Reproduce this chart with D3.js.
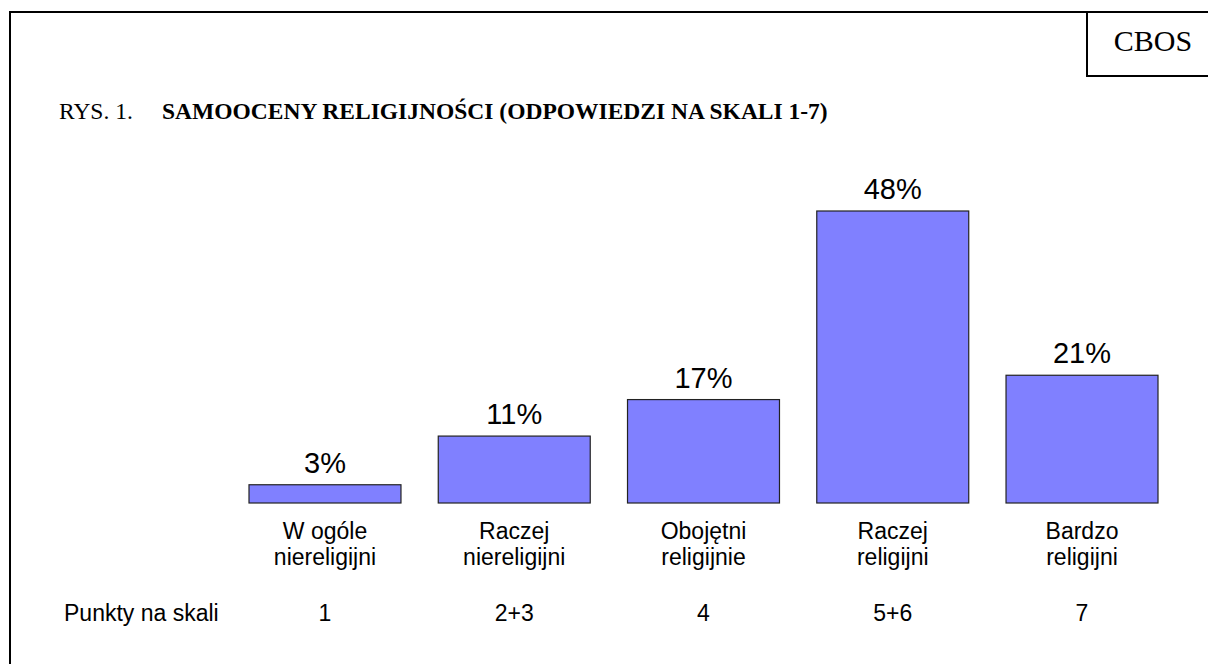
<!DOCTYPE html>
<html lang="pl">
<head>
<meta charset="utf-8">
<title>Samooceny religijności</title>
<script src="https://d3js.org/d3.v7.min.js"></script>
<style>
  body { margin: 0; background: #fff; }
  text { fill: #000; }
</style>
</head>
<body>
<script>
// dane
var categories = ["W ogóle niereligijni", "Raczej niereligijni", "Obojętni religijnie", "Raczej religijni", "Bardzo religijni"];
var labelLines = [["W ogóle", "niereligijni"], ["Raczej", "niereligijni"], ["Obojętni", "religijnie"], ["Raczej", "religijni"], ["Bardzo", "religijni"]];
var values = [3, 11, 17, 48, 21];
var scalePoints = ["1", "2+3", "4", "5+6", "7"];

var w = 1208, h = 664;

var svg = d3.select("body").append("svg")
    .attr("width", w)
    .attr("height", h);

// ramka
svg.append("rect")
    .attr("x", 10).attr("y", 12)
    .attr("width", 1220).attr("height", 670)
    .attr("fill", "none").attr("stroke", "#000").attr("stroke-width", 2);

// CBOS box
svg.append("path")
    .attr("d", "M1087,12 V76 H1210")
    .attr("fill", "none").attr("stroke", "#000").attr("stroke-width", 2);
svg.append("text")
    .attr("x", 1153).attr("y", 51)
    .attr("text-anchor", "middle")
    .style("font-family", "'Liberation Serif', 'Times New Roman', serif")
    .style("font-size", "30px")
    .text("CBOS");

// tytul
var title = svg.append("text")
    .attr("x", 59).attr("y", 119)
    .style("font-family", "'Liberation Serif', 'Times New Roman', serif")
    .style("font-size", "23.5px");
title.append("tspan").text("RYS. 1.");
title.append("tspan").attr("x", 162).style("font-weight", "bold")
    .text("SAMOOCENY RELIGIJNOŚCI (ODPOWIEDZI NA SKALI 1-7)");

var x = d3.scaleBand()
    .domain(categories)
    .range([249, 1158])
    .paddingInner(0.197)
    .paddingOuter(0);

var y = d3.scaleLinear()
    .domain([0, 48])
    .range([503, 211]);

var g = svg.append("g");

g.selectAll("rect.bar")
    .data(values)
    .enter().append("rect")
    .attr("class", "bar")
    .attr("x", function(d, i) { return x(categories[i]); })
    .attr("y", function(d) { return y(d); })
    .attr("width", x.bandwidth())
    .attr("height", function(d) { return y(0) - y(d); })
    .attr("fill", "#8080ff")
    .attr("stroke", "#222")
    .attr("stroke-width", 1.2);

var sans = "'Liberation Sans', Arial, sans-serif";

g.selectAll("text.val")
    .data(values)
    .enter().append("text")
    .attr("class", "val")
    .attr("x", function(d, i) { return x(categories[i]) + x.bandwidth() / 2; })
    .attr("y", function(d) { return y(d) - 12; })
    .attr("text-anchor", "middle")
    .style("font-family", sans)
    .style("font-size", "29px")
    .text(function(d) { return d + "%"; });

var cat = g.selectAll("text.cat")
    .data(labelLines)
    .enter().append("text")
    .attr("class", "cat")
    .attr("text-anchor", "middle")
    .style("font-family", sans)
    .style("font-size", "23px");
cat.each(function(lines, i) {
    var cx = x(categories[i]) + x.bandwidth() / 2;
    d3.select(this).selectAll("tspan")
        .data(lines)
        .enter().append("tspan")
        .attr("x", cx)
        .attr("y", function(d, j) { return 539 + j * 26; })
        .text(function(d) { return d; });
});

svg.append("text")
    .attr("x", 64).attr("y", 621)
    .style("font-family", sans)
    .style("font-size", "23px")
    .text("Punkty na skali");

g.selectAll("text.pt")
    .data(scalePoints)
    .enter().append("text")
    .attr("class", "pt")
    .attr("x", function(d, i) { return x(categories[i]) + x.bandwidth() / 2; })
    .attr("y", 621)
    .attr("text-anchor", "middle")
    .style("font-family", sans)
    .style("font-size", "23px")
    .text(function(d) { return d; });
</script>
</body>
</html>
